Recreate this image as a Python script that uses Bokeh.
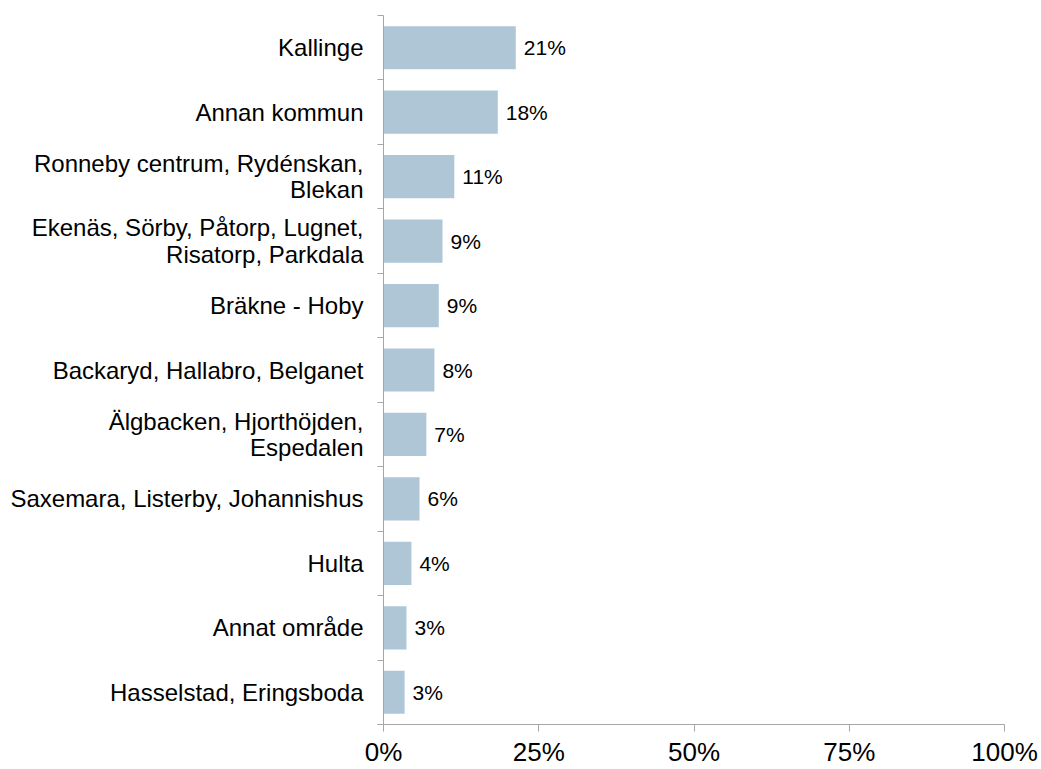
from bokeh.plotting import figure
from bokeh.models import ColumnDataSource, FixedTicker, Range1d
from bokeh.core.properties import value
from bokeh.embed import file_html
from bokeh.resources import INLINE

categories = [
    "Kallinge",
    "Annan kommun",
    "Ronneby centrum, Rydénskan,\nBlekan",
    "Ekenäs, Sörby, Påtorp, Lugnet,\nRisatorp, Parkdala",
    "Bräkne - Hoby",
    "Backaryd, Hallabro, Belganet",
    "Älgbacken, Hjorthöjden,\nEspedalen",
    "Saxemara, Listerby, Johannishus",
    "Hulta",
    "Annat område",
    "Hasselstad, Eringsboda",
]
values = [21.3, 18.4, 11.4, 9.5, 8.9, 8.2, 6.9, 5.8, 4.5, 3.7, 3.4]
labels = ["21%", "18%", "11%", "9%", "9%", "8%", "7%", "6%", "4%", "3%", "3%"]
x_ticks = [0, 25, 50, 75, 100]
x_tick_labels = ["0%", "25%", "50%", "75%", "100%"]

n = len(categories)
centers = [n - i - 0.5 for i in range(n)]

src = ColumnDataSource(dict(y=centers, v=values, lab=labels, cat=categories))

FONT = "Liberation Sans"

p = figure(
    output_backend="svg", toolbar_location=None,
    frame_width=621, frame_height=709,
    x_range=Range1d(0, 100), y_range=Range1d(0, n),
    min_border_left=383, min_border_right=34, min_border_top=15, min_border_bottom=42,
)
p.outline_line_color = None
p.grid.grid_line_color = None
p.background_fill_color = "white"
p.border_fill_color = "white"

p.hbar(y="y", right="v", left=0, height=0.67, source=src,
       fill_color="#aec6d6", line_color=None)
p.text(x="v", y="y", text="lab", source=src, x_offset=8,
       text_baseline="middle", text_align="left",
       text_font=value(FONT), text_font_size="21px", text_color="#000000")

# x axis
xa = p.xaxis[0]
xa.ticker = FixedTicker(ticks=x_ticks)
xa.major_label_overrides = {t: l for t, l in zip(x_ticks, x_tick_labels)}
xa.axis_line_color = "#a6a6a6"
xa.major_tick_line_color = "#a6a6a6"
xa.major_tick_in = 0
xa.major_tick_out = 7
xa.minor_tick_line_color = None
xa.major_label_text_font = FONT
xa.major_label_text_font_size = "26px"
xa.major_label_text_color = "#000000"
xa.major_label_standoff = 5

# y axis
ya = p.yaxis[0]
ya.ticker = FixedTicker(ticks=centers, minor_ticks=list(range(n + 1)))
ya.major_label_overrides = {c: cat for c, cat in zip(centers, categories)}
ya.axis_line_color = "#a6a6a6"
ya.major_tick_line_color = None
ya.major_tick_in = 0
ya.major_tick_out = 0
ya.minor_tick_line_color = "#a6a6a6"
ya.minor_tick_in = 0
ya.minor_tick_out = 6
ya.major_label_text_font = FONT
ya.major_label_text_font_size = "24px"
ya.major_label_text_line_height = 0.97
ya.major_label_text_color = "#000000"
ya.major_label_standoff = 14

open("out.html", "w").write(file_html(p, INLINE))
